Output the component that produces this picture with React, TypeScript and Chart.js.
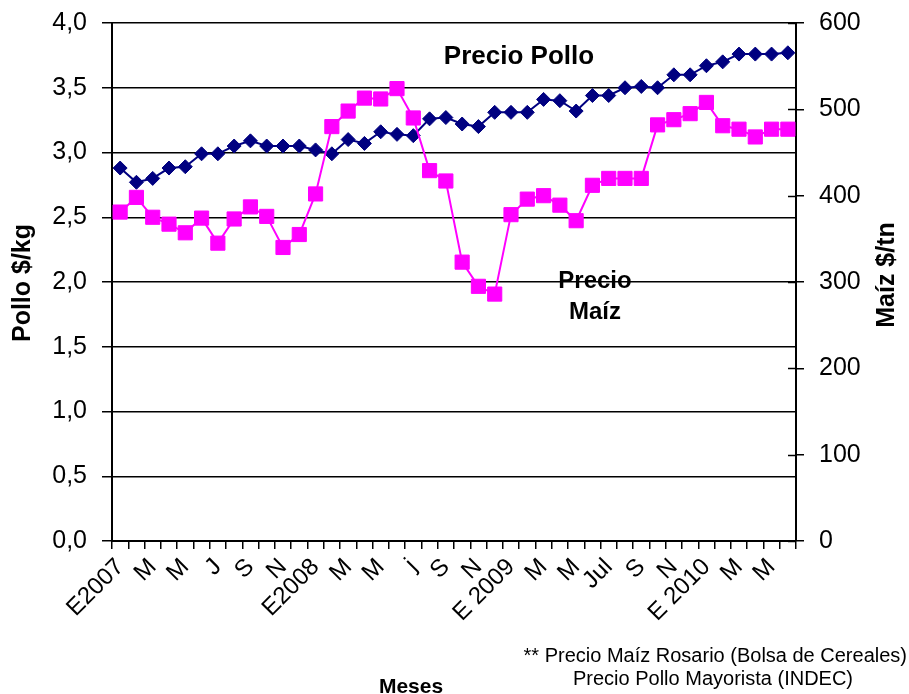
import React, { useEffect, useRef } from 'react';
import { Chart, registerables } from 'chart.js';

Chart.register(...registerables);

const xLabels = [
  'E2007', '', 'M', '', 'M', '', 'J', '', 'S', '', 'N', '',
  'E2008', '', 'M', '', 'M', '', 'j', '', 'S', '', 'N', '',
  'E 2009', '', 'M', '', 'M', '', 'Jul', '', 'S', '', 'N', '',
  'E 2010', '', 'M', '', 'M', '',
];

const polloValues = [
  2.88, 2.77, 2.80, 2.88, 2.89, 2.99, 2.99, 3.05, 3.09, 3.05, 3.05, 3.05,
  3.02, 2.99, 3.10, 3.07, 3.16, 3.14, 3.13, 3.26, 3.27, 3.22, 3.20, 3.31,
  3.31, 3.31, 3.41, 3.40, 3.32, 3.44, 3.44, 3.50, 3.51, 3.50, 3.60, 3.60,
  3.67, 3.70, 3.76, 3.76, 3.76, 3.77,
];

const maizValues = [
  381, 398, 375, 367, 357, 374, 345, 373, 387, 376, 340, 355,
  402, 480, 498, 513, 512, 524, 490, 429, 417, 323, 295, 286,
  378, 396, 400, 389, 371, 412, 420, 420, 420, 482, 488, 495,
  508, 481, 477, 468, 477, 477,
];

const polloTicks = [0, 0.5, 1, 1.5, 2, 2.5, 3, 3.5, 4];
const maizTicks = [0, 100, 200, 300, 400, 500, 600];

const W = 909;
const H = 694;
const FONT = "'Liberation Sans', Arial, Helvetica, sans-serif";

export default function App() {
  const ref = useRef<HTMLCanvasElement | null>(null);

  useEffect(() => {
    const canvas = ref.current;
    if (!canvas) return;

    const textPlugin = {
      id: 'textPlugin',
      afterDraw(chart: any) {
        const ctx = chart.ctx as CanvasRenderingContext2D;
        const area = chart.chartArea;
        const y1 = chart.scales.y1;
        ctx.save();
        // inner half of right axis ticks (they cross the axis)
        ctx.strokeStyle = '#000';
        ctx.lineWidth = 1.5;
        y1.ticks.forEach((t: any) => {
          const py = Math.round(y1.getPixelForValue(t.value)) + 0.5;
          ctx.beginPath();
          ctx.moveTo(area.right - 8, py);
          ctx.lineTo(area.right, py);
          ctx.stroke();
        });

        ctx.fillStyle = '#000';
        // series annotations
        ctx.font = `bold 26px ${FONT}`;
        ctx.textAlign = 'center';
        ctx.textBaseline = 'middle';
        ctx.fillText('Precio Pollo', 519, 57);
        ctx.font = `bold 24px ${FONT}`;
        ctx.fillText('Precio', 595, 281);
        ctx.fillText('Maíz', 595, 312);

        // axis titles
        ctx.font = `bold 25px ${FONT}`;
        ctx.save();
        ctx.translate(23, 283);
        ctx.rotate(-Math.PI / 2);
        ctx.fillText('Pollo $/kg', 0, 0);
        ctx.restore();
        ctx.save();
        ctx.translate(887, 275);
        ctx.rotate(-Math.PI / 2);
        ctx.fillText('Maíz $/tn', 0, 0);
        ctx.restore();

        ctx.font = `bold 21px ${FONT}`;
        ctx.textBaseline = 'alphabetic';
        ctx.fillText('Meses', 411, 693);

        // footnote
        ctx.font = `20px ${FONT}`;
        ctx.textBaseline = 'middle';
        ctx.textAlign = 'right';
        ctx.fillText('** Precio Maíz Rosario (Bolsa de Cereales)', 907, 656);
        ctx.textAlign = 'center';
        ctx.fillText('Precio Pollo Mayorista (INDEC)', 713, 679);
        ctx.restore();
      },
    };

    const chart = new Chart(canvas, {
      type: 'line',
      data: {
        labels: xLabels,
        datasets: [
          {
            label: 'Precio Pollo',
            data: polloValues,
            yAxisID: 'y',
            borderColor: '#000080',
            backgroundColor: '#000080',
            borderWidth: 2,
            pointStyle: 'rectRot',
            pointRadius: 7,
            pointBorderWidth: 1,
            order: 1,
          },
          {
            label: 'Precio Maíz',
            data: maizValues,
            yAxisID: 'y1',
            borderColor: '#FF00FF',
            backgroundColor: '#FF00FF',
            borderWidth: 2,
            pointStyle: 'rect',
            pointRadius: 10,
            pointBorderWidth: 1,
            order: 0,
          },
        ],
      },
      options: {
        responsive: false,
        animation: false,
        layout: { padding: { top: 23, left: 0, right: 0, bottom: 0 } },
        plugins: {
          legend: { display: false },
          tooltip: { enabled: false },
        },
        scales: {
          x: {
            type: 'category',
            offset: true,
            grid: {
              offset: true,
              drawOnChartArea: false,
              drawTicks: true,
              tickLength: 8,
              color: '#000',
              lineWidth: 1.5,
            },
            border: { display: true, color: '#000', width: 2 },
            ticks: {
              autoSkip: false,
              maxRotation: 45,
              minRotation: 45,
              color: '#000',
              padding: 4,
              font: { family: FONT, size: 24 },
            },
            afterFit(s: any) {
              s.height = 153;
            },
          },
          y: {
            position: 'left',
            min: 0,
            max: 4,
            afterBuildTicks(s: any) {
              s.ticks = polloTicks.map((v) => ({ value: v }));
            },
            ticks: {
              color: '#000',
              padding: 15,
              font: { family: FONT, size: 25 },
              callback: (v: any) => Number(v).toFixed(1).replace('.', ','),
            },
            grid: {
              color: '#000',
              lineWidth: 1.5,
              tickLength: 10,
              drawTicks: true,
            },
            border: { display: true, color: '#000', width: 2 },
            afterFit(s: any) {
              s.width = 112;
              s.paddingTop = 0;
              s.paddingBottom = 0;
            },
          },
          y1: {
            position: 'right',
            min: 0,
            max: 600,
            afterBuildTicks(s: any) {
              s.ticks = maizTicks.map((v) => ({ value: v }));
            },
            ticks: {
              color: '#000',
              padding: 15,
              font: { family: FONT, size: 25 },
            },
            grid: {
              drawOnChartArea: false,
              drawTicks: true,
              tickLength: 8,
              color: '#000',
              lineWidth: 1.5,
            },
            border: { display: true, color: '#000', width: 2 },
            afterFit(s: any) {
              s.width = 113;
              s.paddingTop = 0;
              s.paddingBottom = 0;
            },
          },
        },
      },
      plugins: [textPlugin],
    } as any);

    return () => chart.destroy();
  }, []);

  return (
    <div style={{ position: 'absolute', left: 0, top: 0, width: W, height: H, background: '#fff' }}>
      <canvas ref={ref} width={W} height={H} style={{ display: 'block', width: W, height: H }} />
    </div>
  );
}
